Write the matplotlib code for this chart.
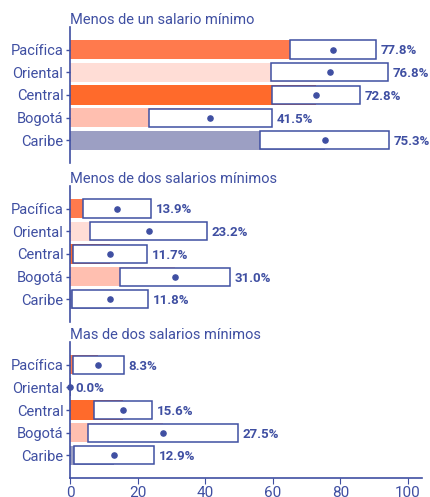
import matplotlib.pyplot as plt

plt.rcParams['font.family'] = ['Roboto', 'DejaVu Sans']

regions = ['Pacífica', 'Oriental', 'Central', 'Bogotá', 'Caribe']
titles = ['Menos de un salario mínimo', 'Menos de dos salarios mínimos',
          'Mas de dos salarios mínimos']
values = [
    [77.8, 76.8, 72.8, 41.5, 75.3],
    [13.9, 23.2, 11.7, 31.0, 11.8],
    [8.3, 0.0, 15.6, 27.5, 12.9],
]
# margin of error (half width of the interval box)
margins = [
    [12.6, 17.3, 13.0, 18.1, 19.1],
    [10.1, 17.3, 11.0, 16.2, 11.2],
    [7.5, 0.0, 8.7, 22.2, 11.8],
]
colors = ['#FF7A4D', '#FFDDD6', '#FF6A2B', '#FFBFB0', '#9C9FC3']
navy = '#3F4FA2'

fig = plt.figure(figsize=(4.31, 4.97), dpi=100)
bottoms = [0.672, 0.352, 0.038]

for i in range(3):
    ax = fig.add_axes([0.163, bottoms[i], 0.815, 0.274])
    y = list(range(len(regions)))
    ax.barh(y, values[i], height=0.85, color=colors, zorder=1)
    lo = [v - m for v, m in zip(values[i], margins[i])]
    w = [2 * m for m in margins[i]]
    ax.barh(y, w, left=lo, height=0.8, facecolor='white', edgecolor=navy,
            linewidth=1.1, zorder=2)
    ax.scatter(values[i], y, s=14, color=navy, zorder=3, clip_on=False)
    for yy, v, m in zip(y, values[i], margins[i]):
        ax.annotate(f'{v:.1f}%', (v + m, yy), xytext=(3.5, -1),
                    textcoords='offset points', va='center', ha='left',
                    fontsize=9.5, fontweight='bold', color=navy)
    ax.set_xlim(0, 104)
    ax.set_ylim(5, -1)
    ax.set_yticks(y)
    ax.set_yticklabels(regions, fontsize=10.5, color=navy)
    ax.tick_params(axis='y', color=navy, length=3, width=1, pad=2)
    for s in ['top', 'right']:
        ax.spines[s].set_visible(False)
    ax.spines['left'].set_color(navy)
    ax.spines['left'].set_linewidth(1.2)
    if i < 2:
        ax.spines['bottom'].set_visible(False)
        ax.set_xticks([])
    else:
        ax.spines['bottom'].set_color(navy)
        ax.spines['bottom'].set_linewidth(1.2)
        ax.set_xticks([0, 20, 40, 60, 80, 100])
        ax.tick_params(axis='x', color=navy, labelcolor=navy, length=4,
                       labelsize=11, pad=2)
    ax.set_title(titles[i], loc='left', fontsize=10.5, color=navy, pad=1)

fig.savefig('out.png', dpi=100)
